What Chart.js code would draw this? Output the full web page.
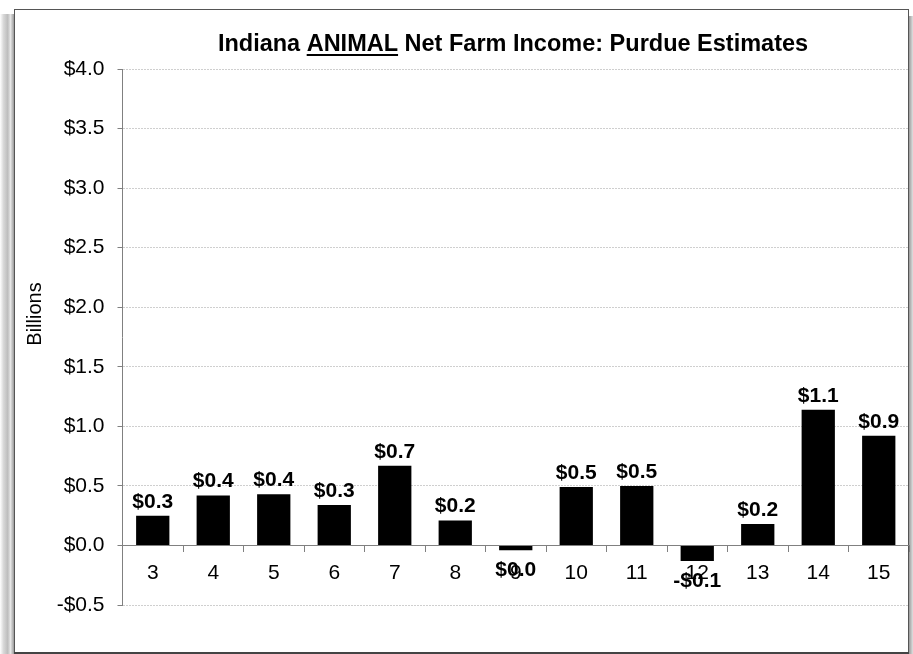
<!DOCTYPE html>
<html>
<head>
<meta charset="utf-8">
<script src="https://cdn.jsdelivr.net/npm/chart.js@4.4.1/dist/chart.umd.min.js"></script>
<style>
  html, body { margin: 0; padding: 0; background: #fff; }
  #wrap { position: relative; width: 913px; height: 654px; }
  canvas { display: block; }
</style>
</head>
<body>
<div id="wrap"><canvas id="c" width="913" height="654"></canvas></div>
<script>
// ---- Data ----
const categories = ['3', '4', '5', '6', '7', '8', '9', '10', '11', '12', '13', '14', '15'];
const values = [0.25, 0.42, 0.43, 0.34, 0.67, 0.21, -0.04, 0.49, 0.50, -0.13, 0.18, 1.14, 0.92];
const yTickValues = [-0.5, 0.0, 0.5, 1.0, 1.5, 2.0, 2.5, 3.0, 3.5, 4.0];
const titleParts = ['Indiana ', 'ANIMAL', ' Net Farm Income: Purdue Estimates'];
const yAxisTitle = 'Billions';

const FONT = "'Liberation Sans', Arial, sans-serif";

function money(v) {
  const r = Math.round(v * 10) / 10;
  if (r === 0) return '$0.0';
  return (r < 0 ? '-$' : '$') + Math.abs(r).toFixed(1);
}

const framePlugin = {
  id: 'frame',
  beforeDraw(chart) {
    const ctx = chart.ctx;
    ctx.save();
    ctx.fillStyle = '#fff';
    ctx.fillRect(0, 0, 913, 654);
    const g = ctx.createLinearGradient(0, 0, 14, 0);
    g.addColorStop(0, '#ffffff');
    g.addColorStop(0.25, '#d8d8d8');
    g.addColorStop(0.55, '#bdbdbd');
    g.addColorStop(0.75, '#e6e6e6');
    g.addColorStop(1, '#9a9a9a');
    ctx.fillStyle = g;
    ctx.fillRect(0, 14, 14, 640);
    const g2 = ctx.createLinearGradient(909, 0, 913, 0);
    g2.addColorStop(0, '#9a9a9a');
    g2.addColorStop(1, '#e0e0e0');
    ctx.fillStyle = g2;
    ctx.fillRect(909, 16, 4, 638);
    ctx.strokeStyle = '#555';
    ctx.lineWidth = 1;
    ctx.strokeRect(14.5, 9.5, 894, 643);
    ctx.fillStyle = '#444';
    ctx.fillRect(14, 652, 895, 2);
    ctx.restore();
  }
};

const textPlugin = {
  id: 'texts',
  afterDraw(chart) {
    const ctx = chart.ctx;
    ctx.save();
    ctx.font = 'bold 23.5px ' + FONT;
    ctx.fillStyle = '#000';
    ctx.textBaseline = 'alphabetic';
    ctx.textAlign = 'left';
    const widths = titleParts.map(t => ctx.measureText(t).width);
    const total = widths.reduce((a, b) => a + b, 0);
    let x = 513 - total / 2;
    const by = 51;
    titleParts.forEach((t, i) => {
      ctx.fillText(t, x, by);
      if (i === 1) {
        ctx.fillRect(x, by + 3, widths[i], 2);
      }
      x += widths[i];
    });
    ctx.font = '20px ' + FONT;
    ctx.translate(35, 314);
    ctx.rotate(-Math.PI / 2);
    ctx.textAlign = 'center';
    ctx.textBaseline = 'middle';
    ctx.fillText(yAxisTitle, 0, 0);
    ctx.restore();
  },
  afterDatasetsDraw(chart) {
    const ctx = chart.ctx;
    const meta = chart.getDatasetMeta(0);
    ctx.save();
    ctx.font = 'bold 21px ' + FONT;
    ctx.fillStyle = '#000';
    ctx.textAlign = 'center';
    ctx.textBaseline = 'alphabetic';
    meta.data.forEach((el, i) => {
      const v = values[i];
      const label = money(v);
      if (v >= 0) {
        ctx.fillText(label, el.x, el.y - 8);
      } else {
        ctx.fillText(label, el.x, el.y + 26);
      }
    });
    ctx.restore();
  }
};

new Chart(document.getElementById('c'), {
  type: 'bar',
  data: {
    labels: categories,
    datasets: [{
      data: values,
      backgroundColor: '#000',
      borderWidth: 0,
      barPercentage: 0.55,
      categoryPercentage: 1.0
    }]
  },
  options: {
    responsive: false,
    animation: false,
    devicePixelRatio: 1,
    layout: { padding: { top: 69, bottom: 49, right: 4, left: 0 } },
    plugins: {
      legend: { display: false },
      title: { display: false },
      tooltip: { enabled: false }
    },
    scales: {
      x: {
        position: { y: 0 },
        offset: true,
        grid: {
          drawOnChartArea: false,
          drawTicks: true,
          tickLength: 6,
          tickColor: '#808080',
          offset: true
        },
        border: { display: true, color: '#808080', width: 1 },
        ticks: {
          color: '#000',
          padding: 9,
          font: { family: FONT, size: 21 }
        }
      },
      y: {
        min: -0.5,
        max: 4.0,
        afterBuildTicks(scale) {
          scale.ticks = yTickValues.map(v => ({ value: v }));
        },
        afterFit(scale) { scale.width = 122.5; },
        grid: {
          color: '#cfcfcf',
          tickColor: '#808080',
          tickLength: 5,
          drawTicks: true
        },
        border: { display: true, color: '#808080', width: 1, dash: [2, 1] },
        ticks: {
          color: '#000',
          padding: 13,
          font: { family: FONT, size: 21 },
          callback: (v) => (v < 0 ? '-$' : '$') + Math.abs(v).toFixed(1)
        }
      }
    }
  },
  plugins: [framePlugin, textPlugin]
});
</script>
</body>
</html>
